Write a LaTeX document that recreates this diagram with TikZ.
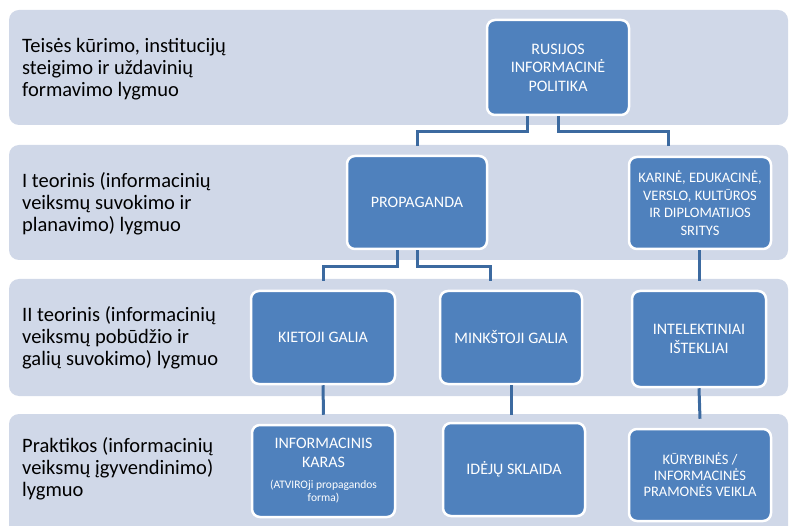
\documentclass[tikz,border=0pt]{standalone}
\usepackage{fontspec}
\setmainfont{Carlito}
\definecolor{bandc}{RGB}{208,216,232}
\definecolor{boxblue}{RGB}{79,129,189}
\definecolor{connc}{RGB}{60,106,160}
\begin{document}
\begin{tikzpicture}[x=1pt,y=-1pt,
  bandrect/.style={fill=bandc, rounded corners=10pt},
  blk/.style={fill=boxblue, draw=white, line width=2.5pt, rounded corners=8pt,
    text=white, align=center, inner sep=0pt,
    font=\fontsize{16}{18.5}\selectfont},
  smallblk/.style={blk, font=\fontsize{14.5}{17.5}\selectfont},
  lbl/.style={anchor=west, align=left, inner sep=0pt, font=\fontsize{20.5}{22}\selectfont},
  connline/.style={draw=connc, line width=3pt}]
\useasboundingbox (0,0) rectangle (789,526);
\fill[white] (0,0) rectangle (789,526);
\begin{scope}
\clip (0,0) rectangle (789,526);
\fill[bandrect] (9,10) rectangle (788,125);
\fill[bandrect] (9,145) rectangle (788,260);
\fill[bandrect] (9,279) rectangle (788,396);
\fill[bandrect] (9,414) rectangle (788,540);
\end{scope}

\node[lbl] (l1) at (22,69) {Teisės kūrimo, institucijų\\steigimo ir uždavinių\\formavimo lygmuo};
\node[lbl] (l2) at (22,204) {I teorinis (informacinių\\veiksmų suvokimo ir\\planavimo) lygmuo};
\node[lbl] (l3) at (22,338) {II teorinis (informacinių\\veiksmų pobūdžio ir\\galių suvokimo) lygmuo};
\node[lbl] (l4) at (22,469) {Praktikos (informacinių\\veiksmų įgyvendinimo)\\lygmuo};

\node[blk, minimum width=142, minimum height=95] (rus) at (558,67.5) {RUSIJOS\\INFORMACINĖ\\POLITIKA};
\node[blk, minimum width=140, minimum height=93] (prop) at (417,202.5) {PROPAGANDA};
\node[smallblk, minimum width=142, minimum height=92] (kar) at (700,203) {KARINĖ, EDUKACINĖ,\\VERSLO, KULTŪROS\\IR DIPLOMATIJOS\\SRITYS};
\node[blk, minimum width=144, minimum height=93] (kiet) at (323,337.5) {KIETOJI GALIA};
\node[blk, minimum width=142, minimum height=93] (mink) at (511,337.5) {MINKŠTOJI GALIA};
\node[blk, minimum width=134, minimum height=96] (intel) at (699,339) {INTELEKTINIAI\\IŠTEKLIAI};
\node[blk, minimum width=143, minimum height=92] (info) at (323.5,471) {INFORMACINIS\\KARAS\\[3pt]{\fontsize{11.5}{13}\selectfont (ATVIROji propagandos}\\[-5.5pt]{\fontsize{11.5}{13}\selectfont forma)}};
\node[blk, minimum width=142, minimum height=93] (idej) at (514,469.5) {IDĖJŲ SKLAIDA};
\node[smallblk, minimum width=142, minimum height=92, font=\fontsize{14.5}{16}\selectfont] (kury) at (700,475) {KŪRYBINĖS /\\INFORMACINĖS\\PRAMONĖS VEIKLA};

\draw[connline] ([xshift=-31pt]rus.south) -- ++(0,15) -| ([yshift=9pt]prop.north);
\draw[connline] (rus.south) -- ++(0,15) -| ([xshift=-32pt,yshift=10pt]kar.north);
\draw[connline] ([xshift=-20pt]prop.south) -- ++(0,16) -| ([yshift=9pt]kiet.north);
\draw[connline] (prop.south) -- ++(0,16) -| ([xshift=-21pt,yshift=9pt]mink.north);
\draw[connline] (kar.south -| intel.north) -- ([yshift=9pt]intel.north);
\draw[connline] (kiet.south) -- ([yshift=9pt]info.north);
\draw[connline] (mink.south) -- ++(0,30);
\draw[connline] (intel.south) -- ([yshift=9pt]kury.north);
\end{tikzpicture}
\end{document}
